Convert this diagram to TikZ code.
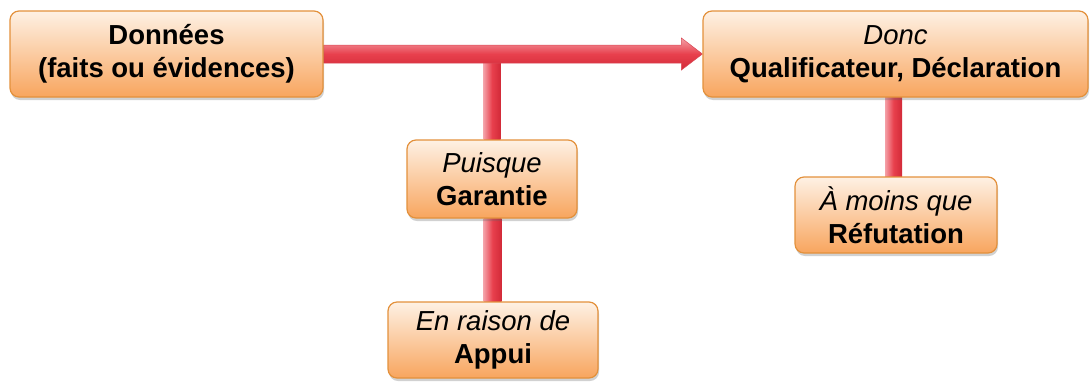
\documentclass[tikz,border=0pt]{standalone}
\usepackage{fontspec}
\setmainfont{Liberation Sans}
\usetikzlibrary{shadows,calc}
\definecolor{boxtop}{HTML}{FEF1E4}
\definecolor{boxbot}{HTML}{F8A55E}
\definecolor{boxline}{HTML}{E3913C}
\definecolor{redmain}{HTML}{E8404D}
\definecolor{redlight}{HTML}{F4A0A7}
\definecolor{reddark}{HTML}{D22A38}
\pgfdeclarelayer{bg}
\pgfsetlayers{bg,main}
\tikzset{
  card/.style={rounded corners=9pt, draw=boxline, line width=1.2pt,
    top color=boxtop, bottom color=boxbot, align=center,
    font=\fontsize{27.5}{33}\selectfont, inner sep=0pt,
    drop shadow={shadow xshift=1pt, shadow yshift=-3pt, opacity=0.3, fill=black!60}},
  arrowshade/.style={top color=redlight, bottom color=reddark, middle color=redmain,
    draw=reddark!85, line width=0.5pt},
  stemshade/.style={left color=redlight, right color=reddark, middle color=redmain},
}
\begin{document}
\begin{tikzpicture}[x=1pt,y=-1pt]
\useasboundingbox (0,0) rectangle (1091,381);
\node[card, minimum width=313pt, minimum height=86pt] (D) at (166.5,54)
  {\textbf{Données}\\\textbf{(faits ou évidences)}};
\node[card, minimum width=385pt, minimum height=86pt] (C) at (895.5,54)
  {\textit{Donc}\\\textbf{Qualificateur, Déclaration}};
\node[card, minimum width=170pt, minimum height=78pt] (W) at (492,179)
  {\textit{Puisque}\\\textbf{Garantie}};
\node[card, minimum width=210pt, minimum height=76pt] (B) at (493,340)
  {\textit{En raison de}\\\textbf{Appui}};
\node[card, minimum width=202pt, minimum height=76pt] (R) at (896,215)
  {\textit{À moins que}\\\textbf{Réfutation}};
\coordinate (J) at (W.north |- D.east);
\begin{pgfonlayer}{bg}
  \shade[stemshade] ([xshift=-8.5pt]J) rectangle ([xshift=8.5pt]W.north);
  \shade[stemshade] ([xshift=-8.5pt]W.south) rectangle ([xshift=8.5pt]B.north);
  \shade[stemshade] ([xshift=-11pt]R.north |- C.south) rectangle ([xshift=6pt]R.north);
  \shade[arrowshade] ([yshift=9pt]D.east) -- ([xshift=-21pt,yshift=9pt]C.west)
    -- ([xshift=-21pt,yshift=16pt]C.west) -- (C.west)
    -- ([xshift=-21pt,yshift=-16pt]C.west) -- ([xshift=-21pt,yshift=-9pt]C.west)
    -- ([yshift=-9pt]D.east) -- cycle;
\end{pgfonlayer}
\end{tikzpicture}
\end{document}
